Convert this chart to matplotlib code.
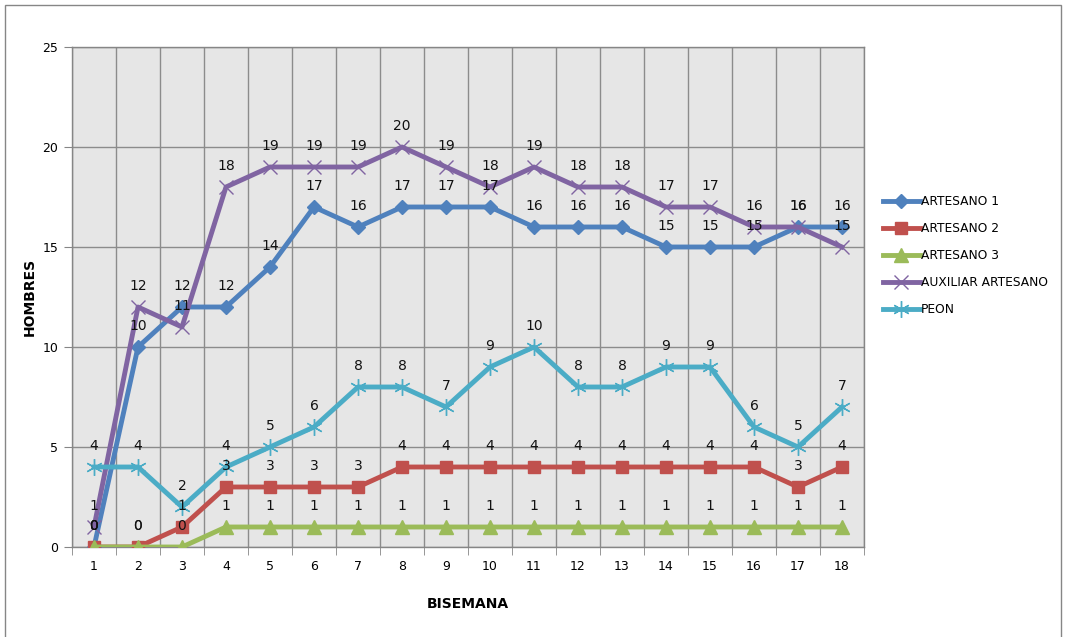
import matplotlib.pyplot as plt
from matplotlib.patches import Rectangle

bisemanas = list(range(1, 19))
artesano1 = [0, 10, 12, 12, 14, 17, 16, 17, 17, 17, 16, 16, 16, 15, 15, 15, 16, 16]
artesano2 = [0, 0, 1, 3, 3, 3, 3, 4, 4, 4, 4, 4, 4, 4, 4, 4, 3, 4]
artesano3 = [0, 0, 0, 1, 1, 1, 1, 1, 1, 1, 1, 1, 1, 1, 1, 1, 1, 1]
auxiliar = [1, 12, 11, 18, 19, 19, 19, 20, 19, 18, 19, 18, 18, 17, 17, 16, 16, 15]
peon = [4, 4, 2, 4, 5, 6, 8, 8, 7, 9, 10, 8, 8, 9, 9, 6, 5, 7]

series = [
    ("ARTESANO 1", artesano1, "#4F81BD", dict(marker="D", markersize=7)),
    ("ARTESANO 2", artesano2, "#C0504D", dict(marker="s", markersize=9)),
    ("ARTESANO 3", artesano3, "#9BBB59", dict(marker="^", markersize=10)),
    ("AUXILIAR ARTESANO", auxiliar, "#8064A2",
     dict(marker="x", markersize=10, markeredgewidth=1.0)),
    ("PEON", peon, "#4BACC6",
     dict(marker=(6, 2, 0), markersize=12, markeredgewidth=1.0)),
]

fig = plt.figure(figsize=(10.66, 6.37), dpi=100)
ax = fig.add_axes([72 / 1066, 90 / 637, 792 / 1066, 500 / 637])
ax.set_facecolor("#E6E6E6")

for name, vals, color, mk in series:
    ax.plot(bisemanas, vals, color=color, lw=3.5, label=name,
            markerfacecolor=color, markeredgecolor=color, zorder=3, **mk)

# data labels on top of everything
for name, vals, color, mk in series:
    for x, v in zip(bisemanas, vals):
        ax.annotate(str(v), (x, v), xytext=(0, 15), textcoords="offset points",
                    ha="center", va="center", fontsize=10, color="#111111",
                    zorder=5)

ax.set_xlim(0.5, 18.5)
ax.set_ylim(0, 25)
ax.set_yticks([0, 5, 10, 15, 20, 25])
ax.set_xticks(bisemanas)
ax.set_xticks([b + 0.5 for b in range(0, 19)], minor=True)
ax.tick_params(axis="x", which="major", length=0, pad=9, labelsize=9)
ax.tick_params(axis="x", which="minor", length=6, color="#868686")
ax.tick_params(axis="y", length=6, color="#868686", labelsize=9, pad=4)
ax.grid(axis="y", color="#8C8C8C", lw=1.0)
ax.grid(axis="x", which="minor", color="#8C8C8C", lw=1.0)
ax.set_axisbelow(True)
for s in ax.spines.values():
    s.set_color("#868686")
    s.set_linewidth(1.0)

ax.set_xlabel("BISEMANA", fontsize=10, fontweight="bold", labelpad=18)
ax.set_ylabel("HOMBRES", fontsize=10, fontweight="bold", labelpad=4)

ax.legend(loc="upper left", bbox_to_anchor=(878 / 1066, (637 - 190) / 637),
          bbox_transform=fig.transFigure, frameon=False, fontsize=8.8,
          handlelength=3.0, handletextpad=0.1, labelspacing=1.15,
          borderaxespad=0)

# outer chart border
fig.patches.append(Rectangle((5 / 1066, -0.05), 1056 / 1066, 632 / 637 + 0.05,
                             transform=fig.transFigure, fill=False,
                             edgecolor="#868686", lw=1.0))

fig.savefig("out.png", dpi=100)
